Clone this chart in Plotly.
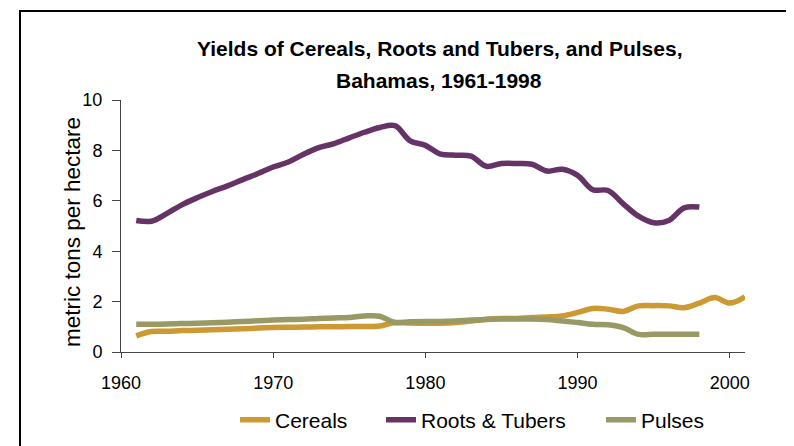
import plotly.graph_objects as go

years_cereals = list(range(1961, 2002))
cereals = [0.64, 0.81, 0.82, 0.85, 0.86, 0.88, 0.90, 0.92, 0.95, 0.97,
           0.98, 0.99, 1.00, 1.00, 1.01, 1.01, 1.03, 1.17, 1.15, 1.14,
           1.14, 1.17, 1.23, 1.30, 1.33, 1.33, 1.37, 1.39, 1.43, 1.57,
           1.73, 1.70, 1.61, 1.83, 1.84, 1.83, 1.76, 1.94, 2.16, 1.94, 2.19]

years_other = list(range(1961, 1999))
roots_tubers = [5.22, 5.19, 5.49, 5.84, 6.12, 6.37, 6.59, 6.84, 7.08, 7.34,
                7.54, 7.85, 8.11, 8.27, 8.50, 8.72, 8.91, 8.98, 8.38, 8.20,
                7.85, 7.81, 7.77, 7.37, 7.48, 7.48, 7.45, 7.18, 7.25, 7.01,
                6.44, 6.41, 5.88, 5.39, 5.13, 5.22, 5.72, 5.75]
pulses = [1.10, 1.10, 1.11, 1.13, 1.14, 1.16, 1.18, 1.21, 1.24, 1.27,
          1.29, 1.30, 1.33, 1.35, 1.37, 1.43, 1.42, 1.17, 1.20, 1.21,
          1.21, 1.23, 1.27, 1.29, 1.31, 1.31, 1.31, 1.29, 1.23, 1.17,
          1.10, 1.08, 0.97, 0.70, 0.70, 0.70, 0.70, 0.70]

x_ticks = [1960, 1970, 1980, 1990, 2000]
y_ticks = [0, 2, 4, 6, 8, 10]

title_lines = ["Yields of Cereals, Roots and Tubers, and Pulses,", "Bahamas, 1961-1998"]
y_title = "metric tons per hectare"

FONT = "Liberation Sans, Arial, sans-serif"

# The page body has an 8px default margin: work in screen pixels and shift.
OFF = 8
W, H = 794, 446
L, R, T, B = 121, 745, 100, 352          # plot area in screen pixels
PW, PH = R - L, B - T


def px(xs):
    return (xs - L) / PW


def py(ys):
    return (B - ys) / PH


fig = go.Figure()
fig.add_trace(go.Scatter(x=years_cereals, y=cereals, name="Cereals", mode="lines", legend="legend",
                         line=dict(color="#CC9933", width=5.5, shape="spline", smoothing=1)))
fig.add_trace(go.Scatter(x=years_other, y=roots_tubers, name="Roots & Tubers", mode="lines",
                         legend="legend2",
                         line=dict(color="#663366", width=5.5, shape="spline", smoothing=1)))
fig.add_trace(go.Scatter(x=years_other, y=pulses, name="Pulses", mode="lines", legend="legend3",
                         line=dict(color="#999966", width=5.5, shape="spline", smoothing=1)))

leg_common = dict(orientation="h", xanchor="left", yanchor="middle", y=py(420),
                  font=dict(family=FONT, size=21, color="black"), bgcolor="rgba(0,0,0,0)",
                  borderwidth=0)

fig.update_layout(
    width=W, height=H,
    margin=dict(l=L - OFF, r=W - (R - OFF), t=T - OFF, b=H - (B - OFF), autoexpand=False),
    paper_bgcolor="white", plot_bgcolor="white",
    font=dict(family=FONT, color="black", size=18),
    showlegend=True,
    legend=dict(x=px(235), **leg_common),
    legend2=dict(x=px(381), **leg_common),
    legend3=dict(x=px(601), **leg_common),
    xaxis=dict(range=[1960, 2001.0], tickvals=x_ticks, ticktext=[str(v) for v in x_ticks],
               showgrid=False, zeroline=False, showline=True, linecolor="#444", linewidth=1,
               ticks="outside", ticklen=5, tickcolor="#444", tickfont=dict(size=18),
               ticklabelstandoff=9),
    yaxis=dict(range=[0, 10], tickvals=y_ticks, ticktext=[str(v) for v in y_ticks],
               showgrid=False, zeroline=False, showline=True, linecolor="#444", linewidth=1,
               ticks="outside", ticklen=8, tickcolor="#444", tickfont=dict(size=18),
               ticklabelstandoff=6),
    annotations=[
        dict(text="<b>" + title_lines[0] + "</b>", xref="paper", yref="paper",
             x=px(439), y=py(48), xanchor="center", yanchor="middle", showarrow=False,
             font=dict(family=FONT, size=21, color="black")),
        dict(text="<b>" + title_lines[1] + "</b>", xref="paper", yref="paper",
             x=px(439), y=py(80), xanchor="center", yanchor="middle", showarrow=False,
             font=dict(family=FONT, size=21, color="black")),
        dict(text=y_title, xref="paper", yref="paper", textangle=-90,
             x=px(72), y=py(232), xanchor="center", yanchor="middle", showarrow=False,
             font=dict(family=FONT, size=22.5, color="black")),
    ],
    shapes=[
        dict(type="line", xref="paper", yref="paper",
             x0=px(20), x1=px(20), y0=py(H + OFF - 2), y1=py(11),
             line=dict(color="black", width=2), layer="below"),
        dict(type="line", xref="paper", yref="paper",
             x0=px(19), x1=px(W + OFF - 2), y0=py(11), y1=py(11),
             line=dict(color="black", width=2), layer="below"),
    ],
)

fig.write_html("out.html", config={"displayModeBar": False})
